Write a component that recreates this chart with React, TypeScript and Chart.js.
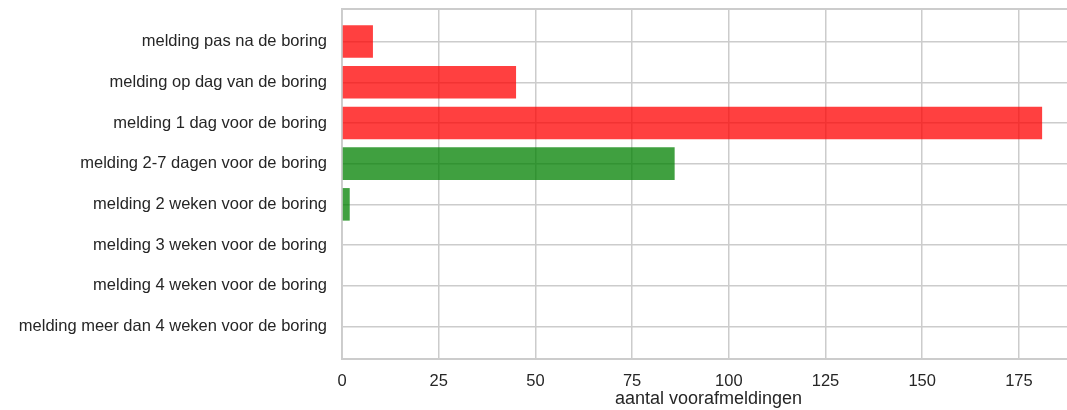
import React, { useEffect, useRef } from "react";
import { Chart, registerables } from "chart.js";

Chart.register(...registerables);

const categories = [
  "melding pas na de boring",
  "melding op dag van de boring",
  "melding 1 dag voor de boring",
  "melding 2-7 dagen voor de boring",
  "melding 2 weken voor de boring",
  "melding 3 weken voor de boring",
  "melding 4 weken voor de boring",
  "melding meer dan 4 weken voor de boring",
];
const counts = [8, 45, 181, 86, 2, 0, 0, 0];
const onTime = [false, false, false, true, true, true, true, true];
const xTicks = [0, 25, 50, 75, 100, 125, 150, 175];
const xTitle = "aantal voorafmeldingen";

const W = 1075;
const H = 410;
const FONT = '"Liberation Sans", Arial, Helvetica, sans-serif';
const TEXT = "#262626";
const GRID = "#cccccc";

export default function App() {
  const ref = useRef<HTMLCanvasElement | null>(null);

  useEffect(() => {
    document.body.style.margin = "0";
    document.body.style.overflow = "hidden";
    document.documentElement.style.overflow = "hidden";
    const canvas = ref.current;
    if (!canvas) return;

    const chart = new Chart(canvas, {
      type: "bar",
      data: {
        datasets: [
          {
            data: counts.map((v, i) => ({ x: v, y: i })),
            backgroundColor: onTime.map((ok) =>
              ok ? "rgba(0,128,0,0.75)" : "rgba(255,0,0,0.75)"
            ),
            borderWidth: 0,
            barPercentage: 0.8,
            categoryPercentage: 1,
            xAxisID: "x",
            yAxisID: "y",
          },
        ],
      },
      options: {
        indexAxis: "y",
        animation: false,
        responsive: false,
        maintainAspectRatio: false,
        layout: { padding: { top: 9, left: 0, right: 0, bottom: 0 } },
        plugins: {
          legend: { display: false },
          tooltip: { enabled: false },
        },
        scales: {
          y: {
            type: "linear",
            reverse: true,
            offset: false,
            min: -0.8,
            max: categories.length - 1 + 0.8,
            afterBuildTicks: (scale: any) => {
              scale.ticks = categories.map((_, i) => ({ value: i }));
            },
            afterFit: (scale: any) => {
              scale.width = 342;
              scale.paddingTop = 0;
              scale.paddingBottom = 0;
            },
            ticks: {
              callback: (v: any) => categories[v as number] ?? "",
              color: TEXT,
              font: { family: FONT, size: 16.5 },
              padding: 15,
              autoSkip: false,
            },
            grid: { color: GRID, lineWidth: 1.5, drawTicks: false, offset: false },
            border: { color: GRID, width: 1.9 },
          },
          x: {
            type: "linear",
            position: "bottom",
            min: 0,
            max: 189.5,
            afterBuildTicks: (scale: any) => {
              scale.ticks = xTicks.map((v) => ({ value: v }));
            },
            afterFit: (scale: any) => {
              scale.height = 51;
              scale.paddingLeft = 0;
              scale.paddingRight = 0;
            },
            ticks: {
              color: TEXT,
              font: { family: FONT, size: 16.5 },
              padding: 12.5,
              maxRotation: 0,
              autoSkip: false,
            },
            grid: { color: GRID, lineWidth: 1.5, drawTicks: false },
            border: { color: GRID, width: 1.9 },
            title: {
              display: true,
              text: xTitle,
              color: TEXT,
              font: { family: FONT, size: 18 },
              padding: { top: 0, bottom: 0 },
            },
          },
          xTop: {
            type: "linear",
            position: "top",
            min: 0,
            max: 1,
            afterFit: (scale: any) => {
              scale.height = 0;
              scale.paddingLeft = 0;
              scale.paddingRight = 0;
            },
            ticks: { display: false },
            grid: { display: false, drawTicks: false },
            border: { display: true, color: GRID, width: 1.9 },
          },
        },
      },
    } as any);

    return () => chart.destroy();
  }, []);

  return (
    <div style={{ width: W, height: H }}>
      <canvas ref={ref} width={W} height={H} style={{ display: "block" }} />
    </div>
  );
}
